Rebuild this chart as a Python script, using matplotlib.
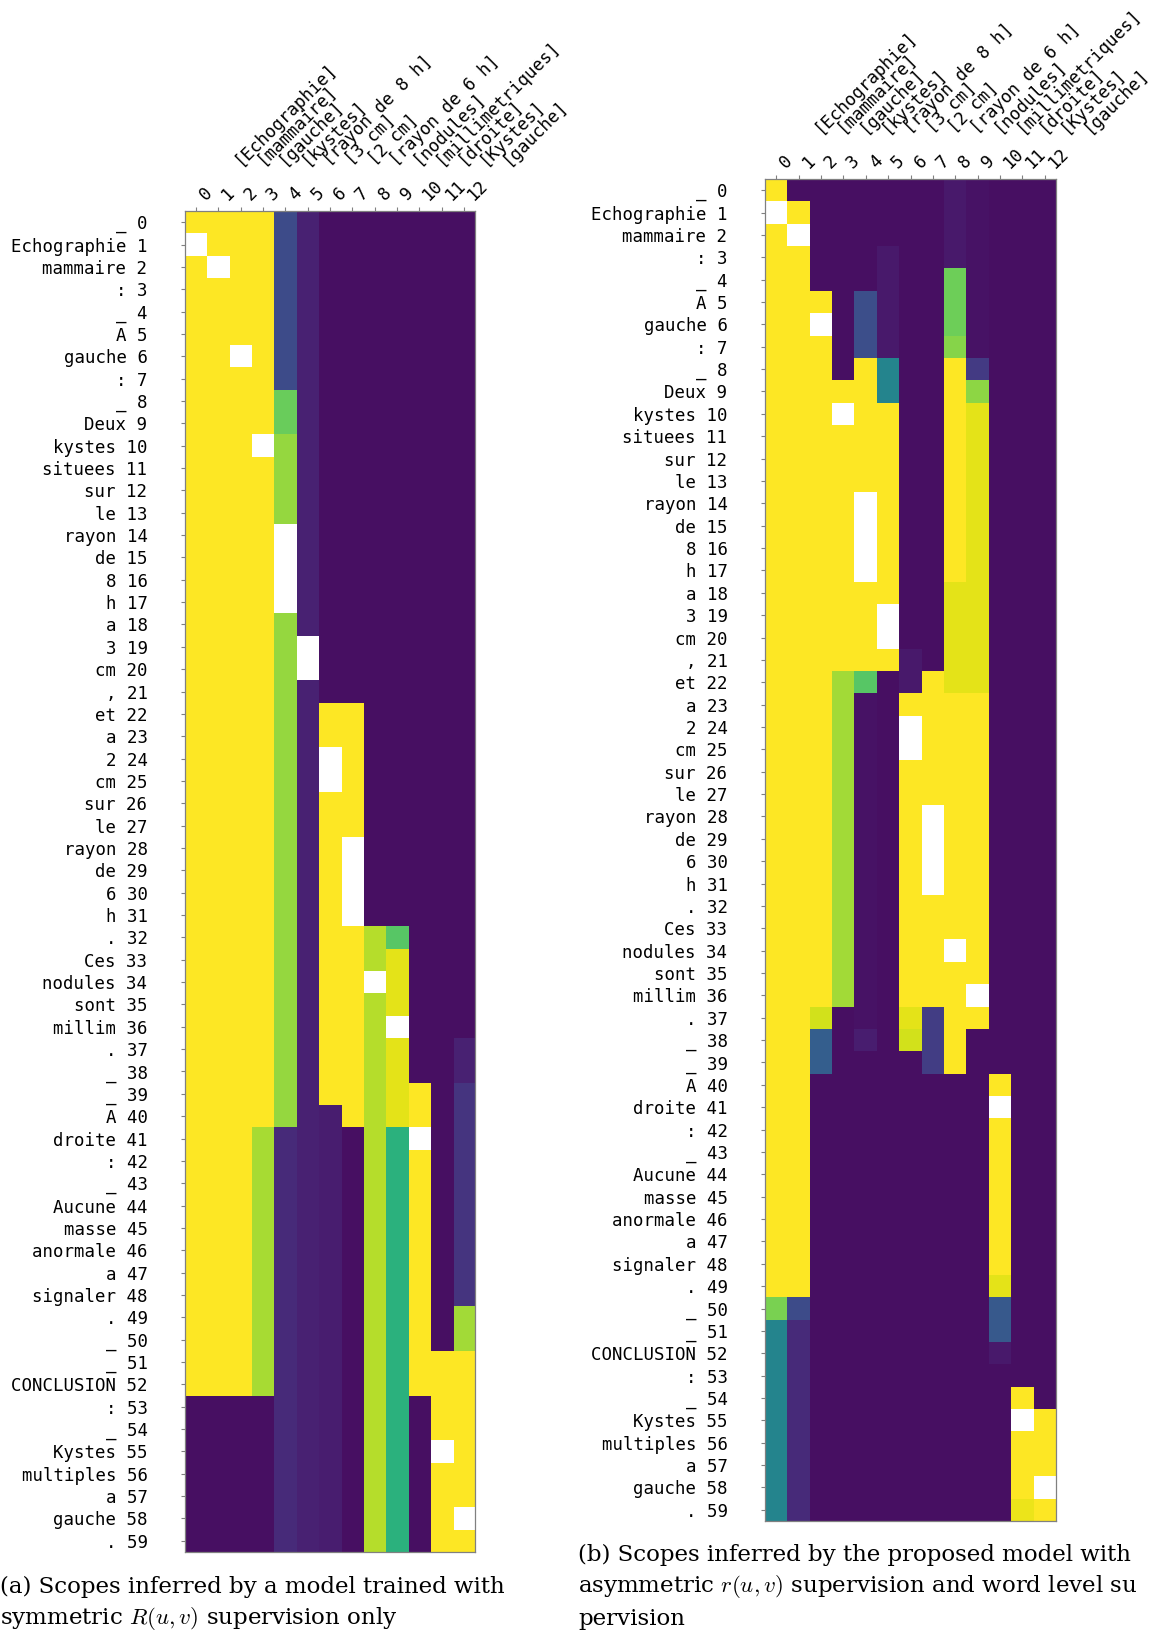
import numpy as np
import matplotlib.pyplot as plt

plt.rcParams['mathtext.fontset'] = 'cm'

# tokens of the report (rows) and the spans (columns)
words = ['_', 'Echographie', 'mammaire', ':', '_', 'A', 'gauche', ':', '_', 'Deux',
         'kystes', 'situees', 'sur', 'le', 'rayon', 'de', '8', 'h', 'a', '3',
         'cm', ',', 'et', 'a', '2', 'cm', 'sur', 'le', 'rayon', 'de',
         '6', 'h', '.', 'Ces', 'nodules', 'sont', 'millim', '.', '_', '_',
         'A', 'droite', ':', '_', 'Aucune', 'masse', 'anormale', 'a', 'signaler', '.',
         '_', '_', 'CONCLUSION', ':', '_', 'Kystes', 'multiples', 'a', 'gauche', '.']
spans = ['[Echographie]', '[mammaire]', '[gauche]', '[kystes]', '[rayon de 8 h]',
         '[3 cm]', '[2 cm]', '[rayon de 6 h]', '[nodules]', '[millimetriques]',
         '[droite]', '[Kystes]', '[gauche]']

# cells left blank: the word is part of the span itself
span_cells = [(1, 0), (2, 1), (6, 2), (10, 3), (14, 4), (15, 4), (16, 4), (17, 4),
              (19, 5), (20, 5), (24, 6), (25, 6), (28, 7), (29, 7), (30, 7), (31, 7),
              (34, 8), (36, 9), (41, 10), (55, 11), (58, 12)]

# scope values per column, as (first row, last row, value)
left_runs = [
    [(0, 52, 1.0), (53, 59, 0.04)],
    [(0, 52, 1.0), (53, 59, 0.04)],
    [(0, 52, 1.0), (53, 59, 0.04)],
    [(0, 40, 1.0), (41, 52, 0.87), (53, 59, 0.04)],
    [(0, 7, 0.23), (8, 9, 0.77), (10, 40, 0.84), (41, 59, 0.12)],
    [(0, 59, 0.09)],
    [(0, 21, 0.04), (22, 39, 1.0), (40, 59, 0.08)],
    [(0, 21, 0.04), (22, 40, 1.0), (41, 59, 0.04)],
    [(0, 31, 0.04), (32, 59, 0.89)],
    [(0, 31, 0.04), (32, 32, 0.74), (33, 40, 0.96), (41, 59, 0.64)],
    [(0, 38, 0.04), (39, 52, 1.0), (53, 59, 0.04)],
    [(0, 50, 0.04), (51, 59, 1.0)],
    [(0, 36, 0.04), (37, 38, 0.09), (39, 48, 0.15), (49, 50, 0.86), (51, 59, 1.0)],
]
right_runs = [
    [(0, 49, 1.0), (50, 50, 0.8), (51, 59, 0.45)],
    [(0, 0, 0.04), (1, 49, 1.0), (50, 50, 0.23), (51, 59, 0.12)],
    [(0, 4, 0.04), (5, 36, 1.0), (37, 37, 0.93), (38, 39, 0.3), (40, 59, 0.04)],
    [(0, 8, 0.04), (9, 21, 1.0), (22, 36, 0.86), (37, 59, 0.04)],
    [(0, 4, 0.04), (5, 7, 0.24), (8, 21, 1.0), (22, 22, 0.74), (23, 37, 0.05),
     (38, 38, 0.08), (39, 59, 0.04)],
    [(0, 2, 0.04), (3, 7, 0.07), (8, 9, 0.45), (10, 21, 1.0), (22, 59, 0.04)],
    [(0, 20, 0.04), (21, 22, 0.07), (23, 36, 1.0), (37, 37, 0.96), (38, 38, 0.93),
     (39, 59, 0.04)],
    [(0, 21, 0.04), (22, 36, 1.0), (37, 39, 0.18), (40, 59, 0.04)],
    [(0, 3, 0.07), (4, 6, 0.78), (7, 7, 0.82), (8, 17, 1.0), (18, 22, 0.96),
     (23, 39, 1.0), (40, 59, 0.04)],
    [(0, 7, 0.05), (8, 8, 0.17), (9, 9, 0.83), (10, 22, 0.96), (23, 37, 1.0),
     (38, 59, 0.04)],
    [(0, 39, 0.04), (40, 48, 1.0), (49, 49, 0.96), (50, 51, 0.28), (52, 52, 0.07),
     (53, 59, 0.04)],
    [(0, 53, 0.04), (54, 58, 1.0), (59, 59, 0.97)],
    [(0, 54, 0.04), (55, 59, 1.0)],
]


def build(runs):
    m = np.zeros((len(words), len(spans)))
    for j, col in enumerate(runs):
        for a, b, v in col:
            m[a:b + 1, j] = v
    for r, c in span_cells:
        m[r, c] = np.nan
    return m


cmap = plt.get_cmap('viridis').copy()
cmap.set_bad('white')
mono = 'DejaVu Sans Mono'


def draw(ax, m):
    ax.imshow(m, cmap=cmap, vmin=0, vmax=1, aspect='auto', interpolation='nearest')
    ax.set_yticks(range(len(words)))
    ax.set_yticklabels([f'{w} {i}' for i, w in enumerate(words)], family=mono, fontsize=12.5)
    ax.set_xticks(range(len(spans)))
    ax.tick_params(axis='x', top=True, labeltop=True, bottom=False, labelbottom=False,
                   length=3, color='gray', pad=2)
    ax.tick_params(axis='y', length=3, color='gray', pad=24)
    ax.set_xticklabels([str(i) for i in range(len(spans))], rotation=45, ha='left',
                       family=mono, fontsize=12.5)
    for s in ax.spines.values():
        s.set_color('gray')
        s.set_linewidth(0.9)
    # span names above the column numbers
    for j, s in enumerate(spans):
        ax.text(j + 2.1, -0.5 - 1.9, s, rotation=45, rotation_mode='anchor',
                ha='left', va='bottom', family=mono, fontsize=12.5, clip_on=False)


fig = plt.figure(figsize=(11.58, 16.37), dpi=100)
ax1 = fig.add_axes([185 / 1158, 1 - 1552 / 1637, 290 / 1158, 1341 / 1637])
ax2 = fig.add_axes([765 / 1158, 1 - 1521 / 1637, 291 / 1158, 1342 / 1637])
draw(ax1, build(left_runs))
draw(ax2, build(right_runs))

cap = dict(family='DejaVu Serif', fontsize=16.5, va='center', ha='left')
fig.text(0.0, 1 - 1587 / 1637, '(a) Scopes inferred by a model trained with', **cap)
fig.text(0.0, 1 - 1619 / 1637, 'symmetric $R(u,v)$ supervision only', **cap)
fig.text(578 / 1158, 1 - 1555 / 1637, '(b) Scopes inferred by the proposed model with', **cap)
fig.text(578 / 1158, 1 - 1587 / 1637, 'asymmetric $r(u,v)$ supervision and word level su', **cap)
fig.text(578 / 1158, 1 - 1619 / 1637, 'pervision', **cap)

fig.savefig('out.png', dpi=100)
